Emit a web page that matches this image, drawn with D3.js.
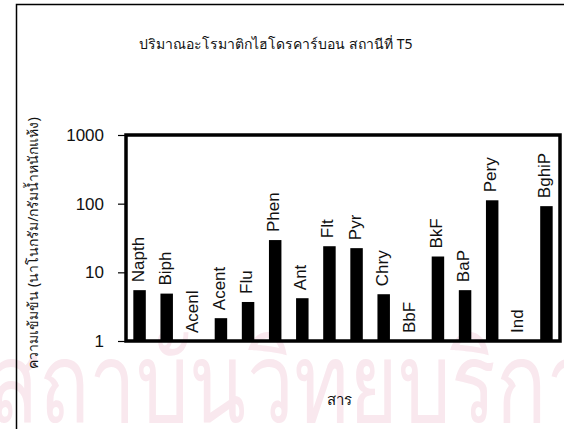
<!DOCTYPE html>
<html>
<head>
<meta charset="utf-8">
<script src="https://cdn.jsdelivr.net/npm/d3@7"></script>
<style>
  html, body { margin: 0; padding: 0; background: #fff; }
  svg { display: block; }
</style>
</head>
<body>
<svg id="chart" width="564" height="429"></svg>
<script>
// PAH compounds measured at station T5 (ng/g dry weight); null = not detected
const compounds = ["Napth", "Biph", "Acenl", "Acent", "Flu", "Phen", "Ant", "Flt",
                   "Pyr", "Chry", "BbF", "BkF", "BaP", "Pery", "Ind", "BghiP"];
const concentrations = [5.5, 4.9, null, 2.15, 3.7, 29.5, 4.2, 24, 22.5, 4.8, null, 17, 5.5, 112, null, 92];
const yTicks = [1, 10, 100, 1000];

const titleText = "ปริมาณอะโรมาติกไฮโดรคาร์บอน สถานีที่ T5";
const yTitle = "ความเข้มข้น (นาโนกรัม/กรัมน้ำหนักแห้ง)";
const xTitle = "สาร";
const watermark = "สถาบันวิทยบริการ";

const data = compounds.map((c, i) => ({ name: c, value: concentrations[i] }));

const svg = d3.select("#chart");
const W = 564, H = 429;
const plot = { left: 126, right: 560, top: 135, bottom: 341 };

// faint background watermark text
svg.append("text")
  .attr("x", -12).attr("y", 422)
  .attr("font-family", "'Noto Sans', sans-serif")
  .attr("font-size", 112)
  .attr("textLength", 650)
  .attr("lengthAdjust", "spacingAndGlyphs")
  .attr("fill", "#f9e8ee")
  .text(watermark);

// outer frame (top and left edges)
svg.append("path")
  .attr("d", `M16.5,${H} V4.5 H${W}`)
  .attr("fill", "none")
  .attr("stroke", "#000")
  .attr("stroke-width", 1.5);

const x = d3.scaleBand()
  .domain(compounds)
  .range([plot.left, plot.right])
  .paddingInner(0.54)
  .paddingOuter(0.27);

const y = d3.scaleLog()
  .domain([1, 1000])
  .range([plot.bottom, plot.top]);

// bars
svg.append("g").selectAll("rect")
  .data(data.filter(d => d.value != null))
  .join("rect")
  .attr("x", d => x(d.name))
  .attr("y", d => y(d.value))
  .attr("width", x.bandwidth())
  .attr("height", d => y(1) - y(d.value))
  .attr("fill", "#000");

// rotated category labels above each bar
svg.append("g").selectAll("text")
  .data(data)
  .join("text")
  .attr("transform", d => {
    const cx = x(d.name) + x.bandwidth() / 2 - 2;
    const top = d.value != null ? y(d.value) : y(1);
    return `translate(${cx},${top - 8}) rotate(-90)`;
  })
  .attr("dy", "0.35em")
  .attr("font-family", "'Liberation Sans', Arial, sans-serif")
  .attr("font-size", 17)
  .attr("fill", "#111")
  .text(d => d.name);

// y axis
const yAxis = d3.axisLeft(y)
  .tickValues(yTicks)
  .tickFormat(d3.format("d"))
  .tickSize(8)
  .tickPadding(14);

const gy = svg.append("g")
  .attr("transform", `translate(${plot.left},0)`)
  .call(yAxis);
gy.select(".domain").remove();
gy.selectAll("text")
  .attr("font-family", "'Liberation Sans', Arial, sans-serif")
  .attr("font-size", 17)
  .attr("fill", "#111");
gy.selectAll("line").attr("stroke", "#000").attr("stroke-width", 1.2);

// plot border
svg.append("rect")
  .attr("x", plot.left)
  .attr("y", plot.top)
  .attr("width", plot.right - plot.left)
  .attr("height", plot.bottom - plot.top)
  .attr("fill", "none")
  .attr("stroke", "#000")
  .attr("stroke-width", 3.5);

// titles
svg.append("text")
  .attr("x", 276).attr("y", 49)
  .attr("text-anchor", "middle")
  .attr("font-family", "'Noto Sans', sans-serif")
  .attr("font-size", 14)
  .attr("fill", "#111")
  .text(titleText);

svg.append("text")
  .attr("transform", `translate(38,243) rotate(-90)`)
  .attr("text-anchor", "middle")
  .attr("font-family", "'Noto Sans', sans-serif")
  .attr("font-size", 14)
  .attr("fill", "#111")
  .text(yTitle);

svg.append("text")
  .attr("x", 339).attr("y", 405)
  .attr("text-anchor", "middle")
  .attr("font-family", "'Noto Sans', sans-serif")
  .attr("font-size", 15)
  .attr("fill", "#111")
  .text(xTitle);
</script>
</body>
</html>
